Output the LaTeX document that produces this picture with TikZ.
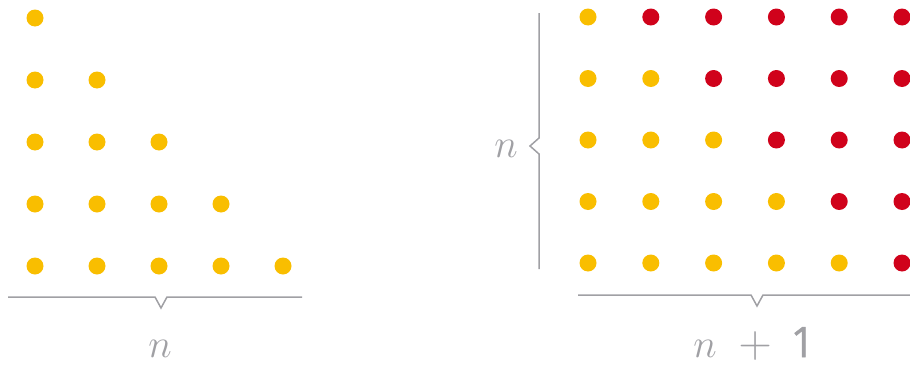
\RequirePackage{fix-cm}
\documentclass[tikz,border=0pt]{standalone}
\usepackage{fontspec}
\newfontfamily\numfont[FakeBold=1.2]{Open Sans}
\usepackage{tikz}
\definecolor{DotYellow}{RGB}{249,190,0}
\definecolor{DotRed}{RGB}{208,2,27}
\definecolor{BraceGray}{RGB}{160,160,164}
\tikzset{
	ydot/.style={circle, fill=DotYellow, inner sep=0pt, minimum size=17pt},
	rdot/.style={circle, fill=DotRed, inner sep=0pt, minimum size=17pt},
	brace/.style={BraceGray, line width=1.5pt, line join=miter},
	bracelabel/.style={text=BraceGray, anchor=base, inner sep=0pt, font=\fontsize{40}{42}\selectfont}
}

\begin{document}
\begin{tikzpicture}[x=1pt, y=-1pt]
	\useasboundingbox (0,0) rectangle (910,364);
	
	% Triangle of n rows
	\foreach \r in {1,...,5}{
		\foreach \c in {1,...,\r}{
			\node[ydot] (t-\r-\c) at ({35+(\c-1)*62}, {18+(\r-1)*62}) {};
		}
	}
	
	% Brace under the triangle
	\coordinate (tb-l) at (8,297);
	\coordinate (tb-r) at (302,297);
	\coordinate (tb-tip) at (161,308);
	\draw[brace] (tb-l) -- (155,297) -- (tb-tip) -- (167,297) -- (tb-r);
	\node[bracelabel] (lab-tri) at (160,357) {$n$};
	
	% Rectangle n x (n+1): yellow below and on the diagonal, red above
	\foreach \r in {1,...,5}{
		\foreach \c in {1,...,6}{
			\edef\dotstyle{\ifnum\c>\r rdot\else ydot\fi}
			\node[\dotstyle] (g-\r-\c) at ({588+(\c-1)*62.8}, {17+(\r-1)*61.5}) {};
		}
	}
	
	% Left brace (n rows)
	\coordinate (vb-t) at (539,13);
	\coordinate (vb-b) at (539,269);
	\coordinate (vb-tip) at (530,146);
	\draw[brace] (vb-t) -- (539,138) -- (vb-tip) -- (539,154) -- (vb-b);
	\node[bracelabel] (lab-rows) at (506,157) {$n$};
	
	% Bottom brace (n+1 columns)
	\coordinate (hb-l) at (578,295);
	\coordinate (hb-r) at (910,295);
	\coordinate (hb-tip) at (757,306);
	\draw[brace] (hb-l) -- (751,295) -- (hb-tip) -- (763,295) -- (hb-r);
	\node[bracelabel] (lab-cols) at (754,357) {$n$\hspace{22pt}{\fontsize{46}{48}\selectfont$+$}\hspace{19pt}{\fontsize{42}{44}\numfont 1}};
	
\end{tikzpicture}
\end{document}
